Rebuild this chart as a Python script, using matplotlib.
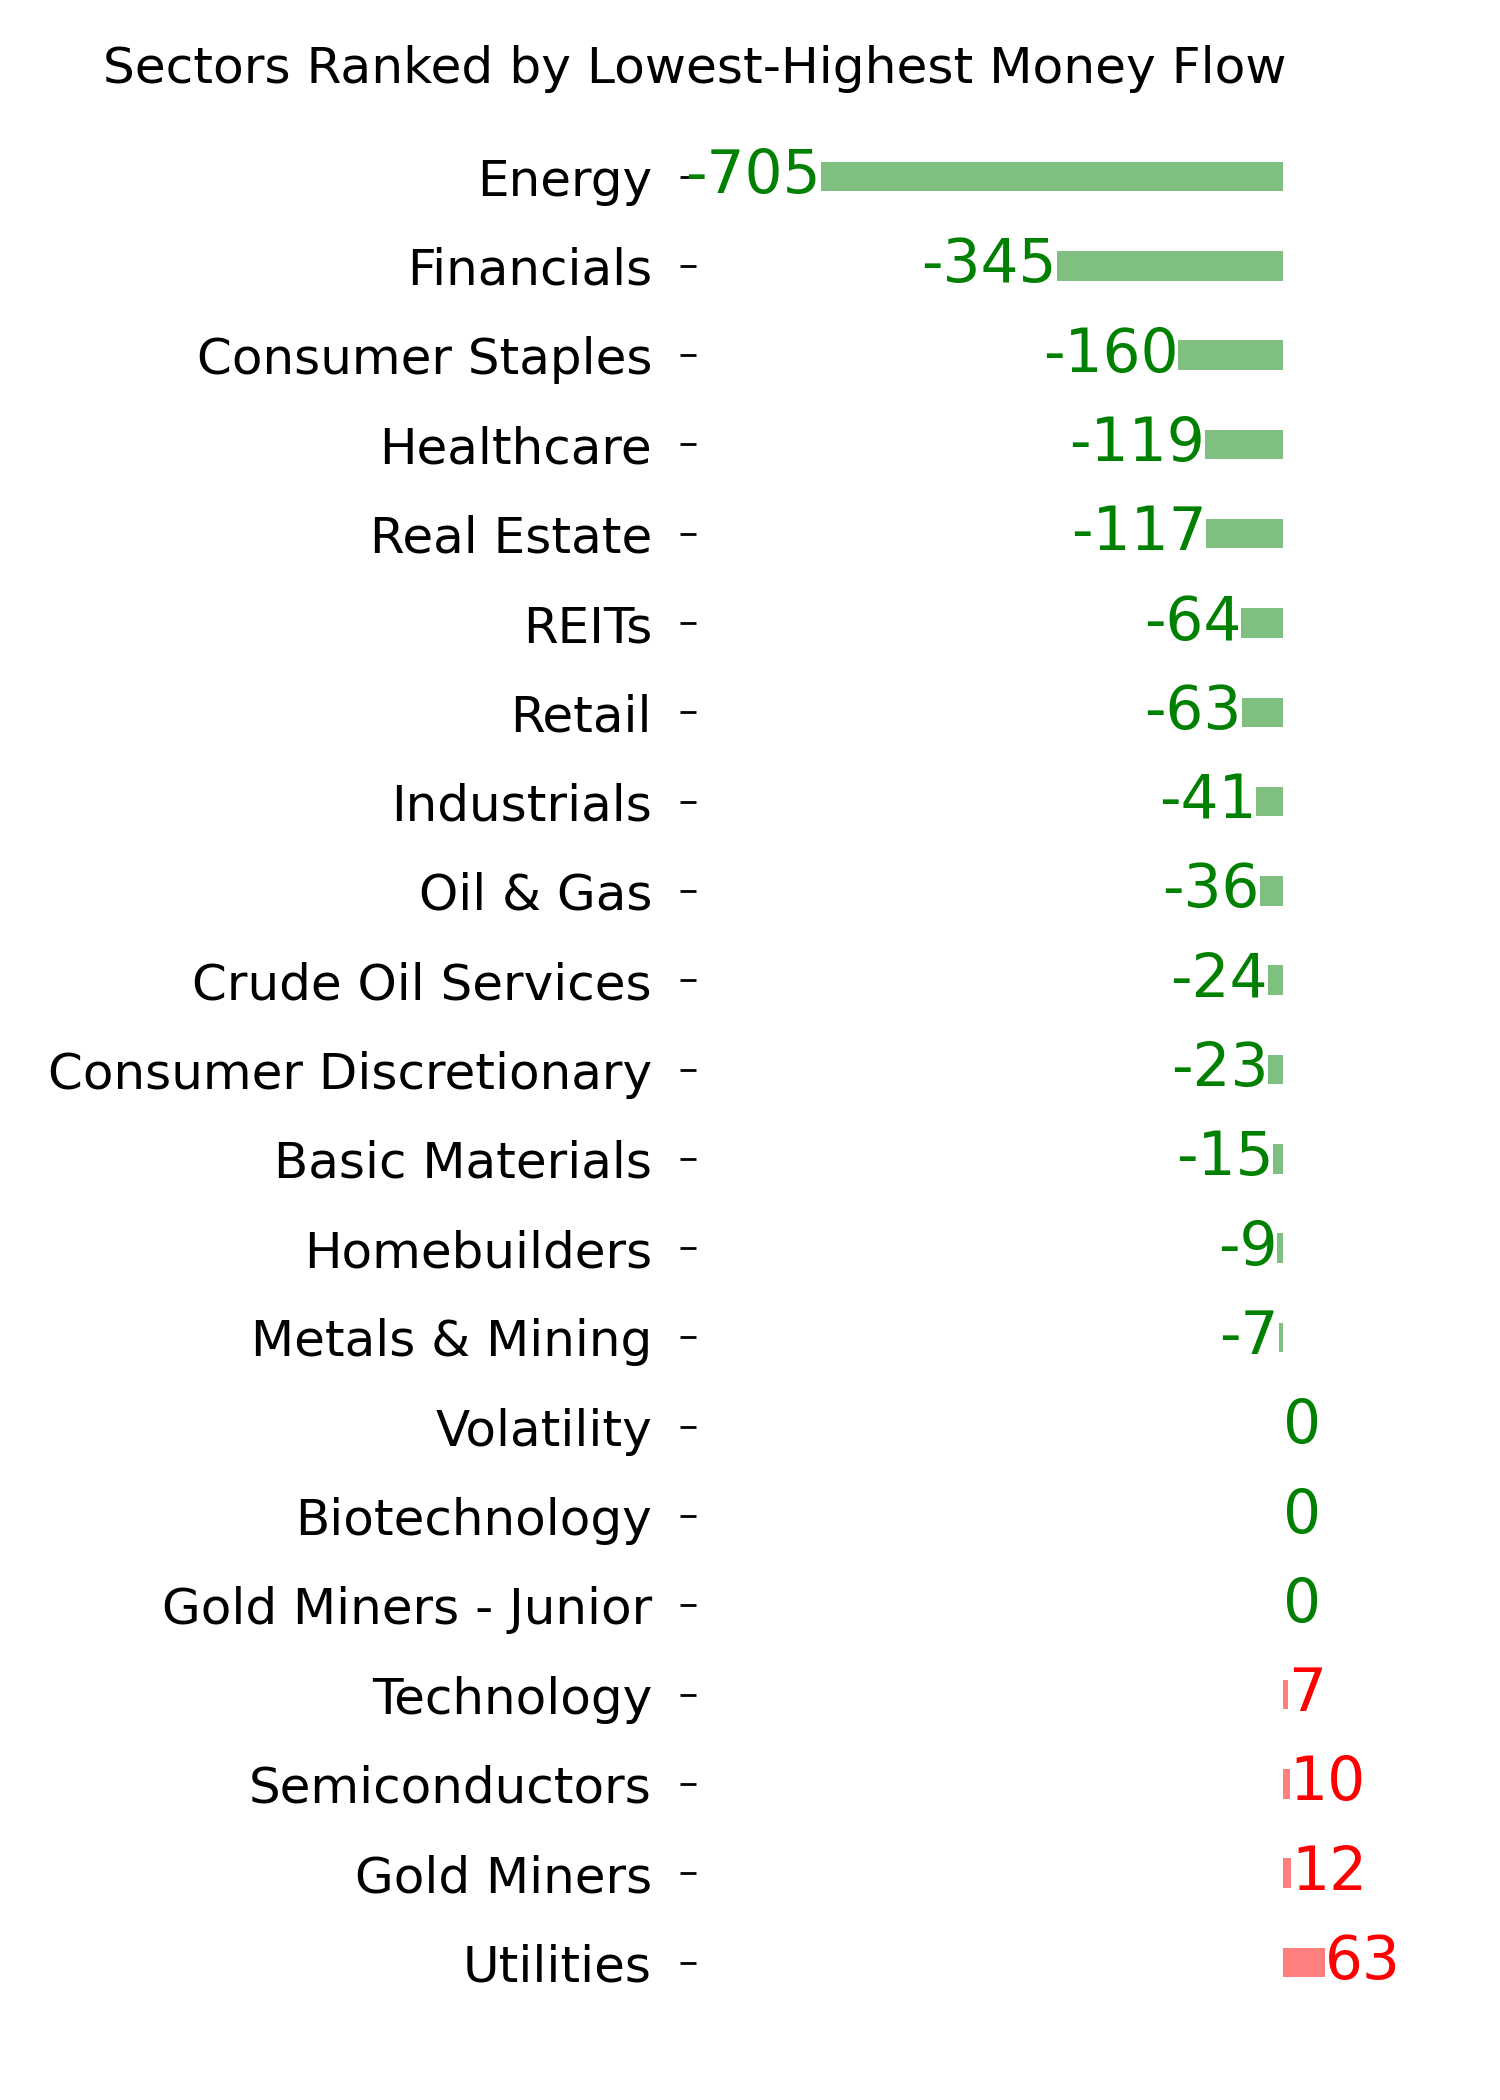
import matplotlib
matplotlib.use("Agg")
import matplotlib.pyplot as plt

sectors = ["Energy", "Financials", "Consumer Staples", "Healthcare", "Real Estate",
           "REITs", "Retail", "Industrials", "Oil & Gas", "Crude Oil Services",
           "Consumer Discretionary", "Basic Materials", "Homebuilders",
           "Metals & Mining", "Volatility", "Biotechnology", "Gold Miners - Junior",
           "Technology", "Semiconductors", "Gold Miners", "Utilities"]
values = [-705, -345, -160, -119, -117, -64, -63, -41, -36, -24, -23, -15, -9, -7,
          0, 0, 0, 7, 10, 12, 63]
title = "Sectors Ranked by Lowest-Highest Money Flow"

fig = plt.figure(figsize=(7.5, 10.5), dpi=200)
ax = fig.add_axes([0.464, 0.0357, 0.479, 0.91])

pos = list(range(len(sectors)))
bar_colors = ["green" if v <= 0 else "red" for v in values]
ax.barh(pos, values, height=0.33, color=bar_colors, alpha=0.5)

for p, v, c in zip(pos, values, bar_colors):
    ax.text(v, p, str(v), color=c, fontsize=21.5,
            ha="right" if v < 0 else "left", va="center")

ax.set_yticks(pos)
ax.set_yticklabels(sectors, fontsize=18)
ax.set_ylim(len(sectors) - 1 + 0.7, -0.7)
ax.set_xlim(-895, 200)
ax.set_xticks([])
for s in ax.spines.values():
    s.set_visible(False)
ax.tick_params(axis="y", length=5.8, width=1.0, pad=10)

fig.text(695 / 1500, 1 - 83 / 2100, title, fontsize=18.1, ha="center", va="baseline")

fig.savefig("out.png", dpi=200)
